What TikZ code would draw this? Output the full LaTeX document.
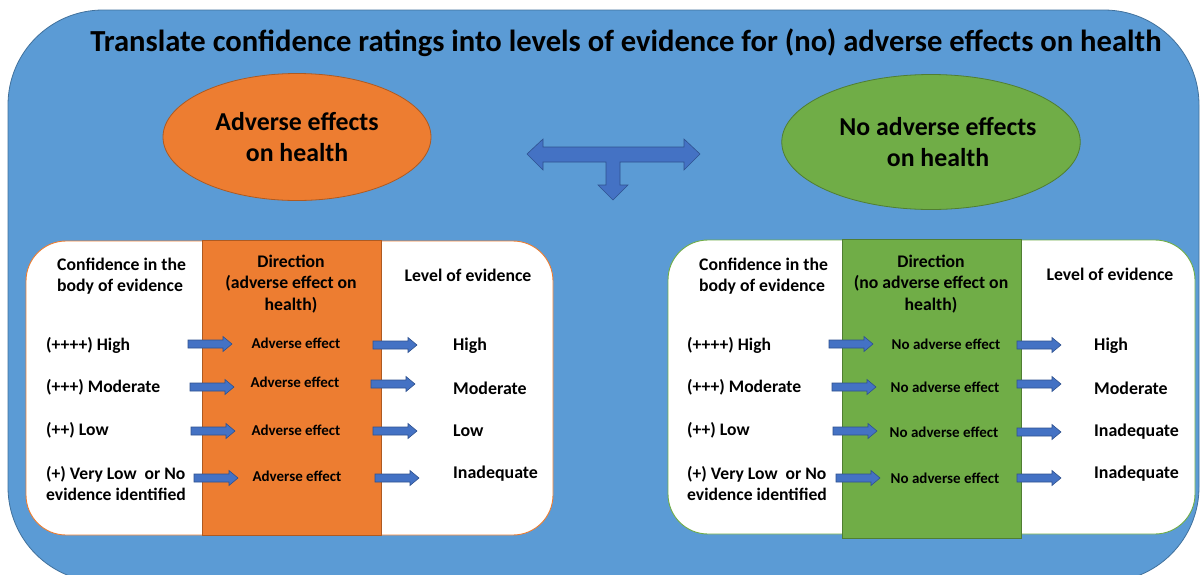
\documentclass[tikz,border=0pt]{standalone}
\usepackage{fontspec}
\setmainfont{Carlito}
\usetikzlibrary{shapes.geometric}
\definecolor{bgblue}{HTML}{5B9BD5}
\definecolor{bgline}{HTML}{41719C}
\definecolor{arrblue}{HTML}{4472C4}
\definecolor{arrline}{HTML}{2F528F}
\definecolor{orangef}{HTML}{ED7D31}
\definecolor{oranged}{HTML}{AE5A21}
\definecolor{greenf}{HTML}{70AD47}
\definecolor{greend}{HTML}{507E32}
\tikzset{
  hdrtxt/.style={font=\fontsize{17.7}{21.2}\selectfont\bfseries, inner sep=0pt},
  rowtxt/.style={font=\fontsize{17.6}{21}\selectfont\bfseries, inner sep=0pt, anchor=west, align=left},
  lvltxt/.style={font=\fontsize{17.9}{20}\selectfont\bfseries, inner sep=0pt, anchor=west},
  midtxt/.style={font=\fontsize{15}{17}\selectfont\bfseries, inner sep=0pt},
  blockarrow/.style={fill=arrblue, draw=arrline, line width=0.6pt, line join=miter},
  pics/barrow/.style={code={\filldraw[blockarrow] (0,-4) -- (35,-4) -- (35,-7.5) -- (44,0) -- (35,7.5) -- (35,4) -- (0,4) -- cycle;}},
  ovalbox/.style={ellipse, line width=0.8pt, align=center, inner sep=0pt, font=\fontsize{25.8}{30.5}\selectfont\bfseries},
  panelbox/.style={fill=white, line width=0.9pt, rounded corners=40pt},
}
\begin{document}
\begin{tikzpicture}[x=1pt,y=-1pt]
\clip (0,0) rectangle (1200,574);
\fill[white] (0,0) rectangle (1200,574);
% background
\draw[draw=bgline, fill=bgblue, line width=0.8pt, rounded corners=95pt] (8,10) rectangle (1199,582);
% title
\node[font=\fontsize{30.6}{32}\selectfont\bfseries, inner sep=0pt] (title) at (626,43) {Translate confidence ratings into levels of evidence for (no) adverse effects on health};
% ellipses
\node[ovalbox, fill=orangef, draw=oranged, minimum width=268pt, minimum height=127pt] (adv) at (297,137) {Adverse effects\\on health};
\node[ovalbox, fill=greenf, draw=greend, minimum width=285pt, minimum height=135pt] (noadv) at (931,142) {\hspace*{14pt}No adverse effects\\\hspace*{14pt}on health};
% T arrow
\filldraw[blockarrow] (527,154) -- (543,139) -- (543,147) -- (684,147) -- (684,139) -- (700,154) -- (684,170) -- (684,162) -- (620,162) -- (620,185) -- (628,185) -- (613,200) -- (598,185) -- (606,185) -- (606,162) -- (543,162) -- (543,170) -- cycle;
% left panel
\draw[panelbox, draw=orangef] (26,241) rectangle (553,535);
\draw[draw=oranged, fill=orangef, line width=0.5pt] (202,240) rectangle (381,535);
% right panel
\draw[panelbox, draw=greenf] (668,240) rectangle (1195,534);
\draw[draw=greend, fill=greenf, line width=0.5pt] (842,239) rectangle (1021,538);
% left headers
\node[hdrtxt, anchor=west, align=left] (lconf) at (57,276) {Confidence in the\\body of evidence};
\node[hdrtxt, align=center] (ldir) at (291,284) {Direction\\(adverse effect on\\health)};
\node[hdrtxt] (llev) at (468,275) {Level of evidence};
% right headers
\node[hdrtxt, anchor=west, align=left] (rconf) at (699,276) {Confidence in the\\body of evidence};
\node[hdrtxt, align=center] (rdir) at (931,284) {Direction\\(no adverse effect on\\health)};
\node[hdrtxt] (rlev) at (1110,274) {Level of evidence};
% left rows
\node[rowtxt] (lr1) at (46,345) {(++++) High};
\node[rowtxt] (lr2) at (46,387) {(+++) Moderate};
\node[rowtxt] (lr3) at (46,430) {(++) Low};
\node[rowtxt] (lr4) at (46,484) {(+) Very Low\ \ or No\\evidence identified};
\node[midtxt] (lm1) at (296,343) {Adverse effect};
\node[midtxt] (lm2) at (295,382) {Adverse effect};
\node[midtxt] (lm3) at (296,430) {Adverse effect};
\node[midtxt] (lm4) at (297,476) {Adverse effect};
\node[lvltxt] (lv1) at (453,346) {High};
\node[lvltxt] (lv2) at (453,388) {Moderate};
\node[lvltxt] (lv3) at (453,431) {Low};
\node[lvltxt] (lv4) at (453,474) {Inadequate};
\pic (la1) at (188,344) {barrow};
\pic (la2) at (190,387) {barrow};
\pic (la3) at (191,431) {barrow};
\pic (la4) at (194,478) {barrow};
\pic (lb1) at (373,345) {barrow};
\pic (lb2) at (371,384) {barrow};
\pic (lb3) at (373,431) {barrow};
\pic (lb4) at (375,478) {barrow};
% right rows
\node[rowtxt] (rr1) at (687,345) {(++++) High};
\node[rowtxt] (rr2) at (687,387) {(+++) Moderate};
\node[rowtxt] (rr3) at (687,430) {(++) Low};
\node[rowtxt] (rr4) at (687,484) {(+) Very Low\ \ or No\\evidence identified};
\node[midtxt] (rm1) at (946,344) {No adverse effect};
\node[midtxt] (rm2) at (945,387) {No adverse effect};
\node[midtxt] (rm3) at (944,432) {No adverse effect};
\node[midtxt] (rm4) at (945,478) {No adverse effect};
\node[lvltxt] (rv1) at (1094,346) {High};
\node[lvltxt] (rv2) at (1094,388) {Moderate};
\node[lvltxt] (rv3) at (1094,432) {Inadequate};
\node[lvltxt] (rv4) at (1094,474) {Inadequate};
\pic (ra1) at (829,344) {barrow};
\pic (ra2) at (832,387) {barrow};
\pic (ra3) at (833,431) {barrow};
\pic (ra4) at (836,478) {barrow};
\pic (rb1) at (1017,345) {barrow};
\pic (rb2) at (1017,384) {barrow};
\pic (rb3) at (1017,432) {barrow};
\pic (rb4) at (1017,478) {barrow};
\end{tikzpicture}
\end{document}
